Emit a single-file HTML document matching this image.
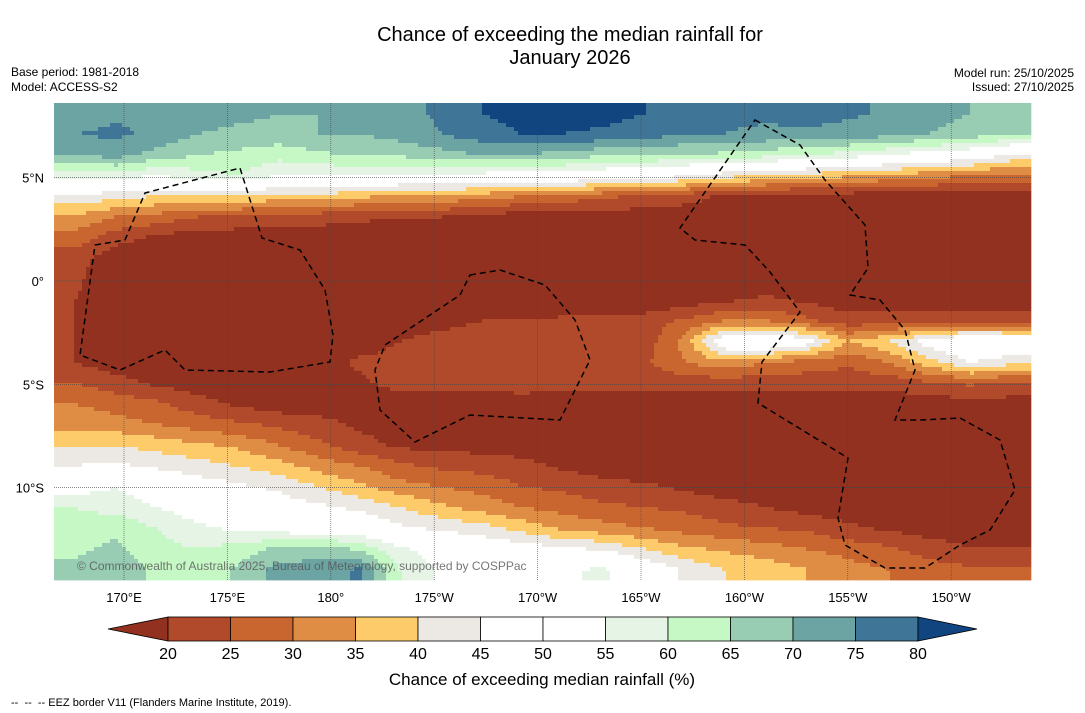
<!DOCTYPE html>
<html><head><meta charset="utf-8">
<style>
body{margin:0;background:#fff;font-family:"Liberation Sans",sans-serif;}
#wrap{position:relative;width:1085px;height:713px;overflow:hidden;background:#fff;}
</style></head>
<body>
<div id="wrap">
<svg id="svg" width="1085" height="713" xmlns="http://www.w3.org/2000/svg" font-family="Liberation Sans, sans-serif">
<text x="570" y="41" font-size="20" text-anchor="middle">Chance of exceeding the median rainfall for</text>
<text x="570" y="64" font-size="20" text-anchor="middle">January 2026</text>
<text x="11" y="76" font-size="12">Base period: 1981-2018</text>
<text x="11" y="91" font-size="12">Model: ACCESS-S2</text>
<text x="1074" y="77" font-size="12" text-anchor="end">Model run: 25/10/2025</text>
<text x="1074" y="91" font-size="12" text-anchor="end">Issued: 27/10/2025</text>
<g id="field"></g>
<g id="grid"></g>
<g id="eez" fill="none" stroke="#000" stroke-width="1.5" stroke-dasharray="6,4"></g>
<text x="77" y="570" font-size="12" fill="#555" opacity="0.8">© Commonwealth of Australia 2025, Bureau of Meteorology, supported by COSPPac</text>
<g id="axes"></g>
<g id="cbar"></g>
<text x="542" y="685" font-size="17" text-anchor="middle">Chance of exceeding median rainfall (%)</text>
<text x="11" y="706" font-size="11">-- &#160;-- &#160;-- EEZ border V11 (Flanders Marine Institute, 2019).</text>
</svg>
</div>
<script>
const binEdges=[20,25,30,35,40,45,50,55,60,65,70,75,80];
const binColors=["#933120","#b04a2a","#c9652f","#df8d45","#fdcb6a","#ece8e3","#ffffff","#ffffff","#e6f4e6","#c6f8c6","#98ccb3","#6ba4a3","#3f7597","#11457f"];
const lonTicks=["170°E","175°E","180°","175°W","170°W","165°W","160°W","155°W","150°W"];
const lonTickDeg=[170,175,180,185,190,195,200,205,210];
const latTicks=["5°N","0°","5°S","10°S"];
const latTickDeg=[5,0,-5,-10];
const field=[
[72,74,75,74,72,70,70,72,73,76,80,82,82,82,80,78,76,76,77,76,74,72,70,68],
[75,76,74,70,68,68,70,70,72,75,78,80,80,79,77,76,75,74,74,73,72,70,68,66],
[70,72,68,65,64,62,64,66,66,68,70,70,68,66,66,64,64,62,60,58,55,52,50,45],
[56,58,55,58,60,55,55,55,54,54,53,52,52,50,48,46,42,40,38,36,34,32,30,28],
[44,42,40,40,40,38,38,36,34,34,32,30,28,26,24,22,19,18,17,17,17,17,17,17],
[34,30,28,25,24,22,22,21,20,20,18,17,17,17,17,17,17,17,17,17,17,17,17,17],
[28,22,19,17,17,17,17,17,17,17,17,17,17,17,17,17,17,17,17,17,17,17,17,17],
[22,17,16,16,16,16,16,16,16,16,16,16,16,16,16,16,16,16,16,16,16,16,16,16],
[21,17,16,16,16,16,16,16,16,16,16,16,16,16,16,16,16,16,16,16,16,16,16,16],
[20,17,16,16,16,16,16,16,16,16,16,16,16,16,16,17,19,21,19,17,17,17,17,17],
[20,17,16,16,16,16,16,16,17,18,20,20,21,22,22,26,30,30,26,22,22,22,22,22],
[20,17,17,17,17,17,17,17,20,22,23,23,24,22,22,32,52,54,48,35,40,48,54,52],
[20,17,17,17,17,17,17,21,22,23,24,25,22,22,24,30,34,30,28,26,30,38,45,42],
[25,22,19,17,17,17,17,19,22,22,22,23,22,22,22,22,22,22,22,22,22,24,26,24],
[30,28,26,22,19,17,17,17,17,17,17,17,17,17,17,17,17,17,17,17,17,17,18,18],
[33,32,30,28,26,24,22,19,17,16,16,16,16,16,16,16,16,16,16,16,16,16,16,16],
[40,40,38,36,34,30,26,22,19,18,18,17,16,16,16,16,16,16,16,16,16,16,16,16],
[45,46,44,42,40,37,33,30,26,24,23,22,19,17,16,16,16,16,16,16,16,16,16,16],
[52,55,52,48,46,44,40,36,32,30,28,25,24,22,21,19,17,16,16,16,16,16,16,16],
[60,58,55,52,50,48,46,44,40,36,33,30,28,26,25,24,22,20,18,17,17,17,17,17],
[62,64,60,56,54,52,50,50,46,44,42,38,34,32,30,28,26,25,24,21,19,18,18,18],
[64,66,62,60,62,66,68,64,56,52,50,48,46,44,40,36,34,32,30,28,26,22,20,20],
[66,68,64,60,66,72,72,76,60,54,52,52,54,56,50,44,40,38,35,32,30,28,26,26]
];
const NS="http://www.w3.org/2000/svg";
const X0=54,X1=1031,Y0=103,Y1=580;
const xOf=d=>124+(d-170)*20.68;
const yOf=l=>281-l*20.66;
function colorFor(v){let i=0;while(i<binEdges.length&&v>=binEdges[i])i++;return binColors[i];}
const rows=field.length,cols=field[0].length;
const cw=(X1-X0)/cols,ch=(Y1-Y0)/rows;
function valAt(x,y){
 let gx=(x-X0)/cw-0.5,gy=(y-Y0)/ch-0.5;
 gx=Math.max(0,Math.min(cols-1,gx));gy=Math.max(0,Math.min(rows-1,gy));
 const i=Math.min(cols-2,Math.floor(gx)),j=Math.min(rows-2,Math.floor(gy));
 const fx=gx-i,fy=gy-j;
 return field[j][i]*(1-fx)*(1-fy)+field[j][i+1]*fx*(1-fy)+field[j+1][i]*(1-fx)*fy+field[j+1][i+1]*fx*fy;
}
const fg=document.getElementById('field');
const S=4;
function addRun(x0,x1,y,h,col){
 const r=document.createElementNS(NS,'rect');
 r.setAttribute('x',x0);r.setAttribute('y',y);
 r.setAttribute('width',x1-x0+0.3);r.setAttribute('height',h+0.4);
 r.setAttribute('fill',col);
 
 
 fg.appendChild(r);
}
for(let y=Y0;y<Y1;y+=S){
 const h=Math.min(S,Y1-y);
 let runStart=X0,runCol=null;
 for(let x=X0;x<X1;x+=S){
  const c=colorFor(valAt(Math.min(x+S/2,X1),y+h/2));
  if(c!==runCol){
   if(runCol)addRun(runStart,x,y,h,runCol);
   runStart=x;runCol=c;
  }
 }
 if(runCol)addRun(runStart,X1,y,h,runCol);
}
const gg=document.getElementById('grid');
lonTickDeg.forEach((d,i)=>{
 const l=document.createElementNS(NS,'line');
 l.setAttribute('x1',xOf(d));l.setAttribute('x2',xOf(d));l.setAttribute('y1',Y0);l.setAttribute('y2',Y1);
 l.setAttribute('stroke','#444');l.setAttribute('stroke-width','0.6');l.setAttribute('stroke-dasharray','1,1');
 
 
 gg.appendChild(l);
 const t=document.createElementNS(NS,'text');
 t.setAttribute('x',xOf(d));t.setAttribute('y',602);t.setAttribute('font-size','13');t.setAttribute('text-anchor','middle');
 t.textContent=lonTicks[i];
 
 
 document.getElementById('axes').appendChild(t);
});
latTickDeg.forEach((d,i)=>{
 const l=document.createElementNS(NS,'line');
 l.setAttribute('x1',X0);l.setAttribute('x2',X1);l.setAttribute('y1',yOf(d));l.setAttribute('y2',yOf(d));
 l.setAttribute('stroke','#444');l.setAttribute('stroke-width','0.6');l.setAttribute('stroke-dasharray','1,1');
 
 
 gg.appendChild(l);
 const t=document.createElementNS(NS,'text');
 t.setAttribute('x',44);t.setAttribute('y',yOf(d)+5);t.setAttribute('font-size','13');t.setAttribute('text-anchor','end');
 t.textContent=latTicks[i];
 
 
 document.getElementById('axes').appendChild(t);
});
const eezPaths=[
"M95,245 L125,240 L145,193 L240,168 L262,238 L300,250 L325,290 L333,335 L330,362 L270,372 L185,370 L165,350 L120,370 L80,355 Z",
"M470,275 L500,270 L545,285 L575,320 L590,360 L560,420 L470,415 L415,442 L380,410 L375,370 L385,345 L460,295 Z",
"M755,120 L800,145 L825,180 L865,225 L868,268 L850,295 L880,300 L905,330 L915,370 L895,420 L920,420 L960,418 L1000,440 L1015,490 L990,530 L960,545 L925,568 L885,568 L845,545 L838,518 L848,458 L758,403 L762,362 L800,312 L770,272 L745,245 L695,240 L680,228 Z"
];
const eg=document.getElementById('eez');
eezPaths.forEach(d=>{const p=document.createElementNS(NS,'path');p.setAttribute('d',d);
 
 
 eg.appendChild(p);});
const cb=document.getElementById('cbar');
const cbX0=168,cbX1=918,cbY=617,cbH=24,segW=(cbX1-cbX0)/(binEdges.length-1);
function addPoly(pts,fill,name){const p=document.createElementNS(NS,'polygon');p.setAttribute('points',pts);p.setAttribute('fill',fill);p.setAttribute('stroke','#000');p.setAttribute('stroke-width','0.8');
 
 
 cb.appendChild(p);}
addPoly(`${cbX0},${cbY} ${108},${cbY+cbH/2} ${cbX0},${cbY+cbH}`,binColors[0],'colorbar-extend-low');
for(let i=0;i<binEdges.length-1;i++){
 const r=document.createElementNS(NS,'rect');
 r.setAttribute('x',cbX0+i*segW);r.setAttribute('y',cbY);r.setAttribute('width',segW);r.setAttribute('height',cbH);
 r.setAttribute('fill',binColors[i+1]);r.setAttribute('stroke','#000');r.setAttribute('stroke-width','0.8');
 
 
 cb.appendChild(r);
}
addPoly(`${cbX1},${cbY} ${977},${cbY+cbH/2} ${cbX1},${cbY+cbH}`,binColors[binColors.length-1],'colorbar-extend-high');
binEdges.forEach((v,i)=>{
 const t=document.createElementNS(NS,'text');
 t.setAttribute('x',cbX0+i*segW);t.setAttribute('y',659);t.setAttribute('font-size','16');t.setAttribute('text-anchor','middle');
 t.textContent=v;
 
 
 cb.appendChild(t);
});
</script>
</body></html>
